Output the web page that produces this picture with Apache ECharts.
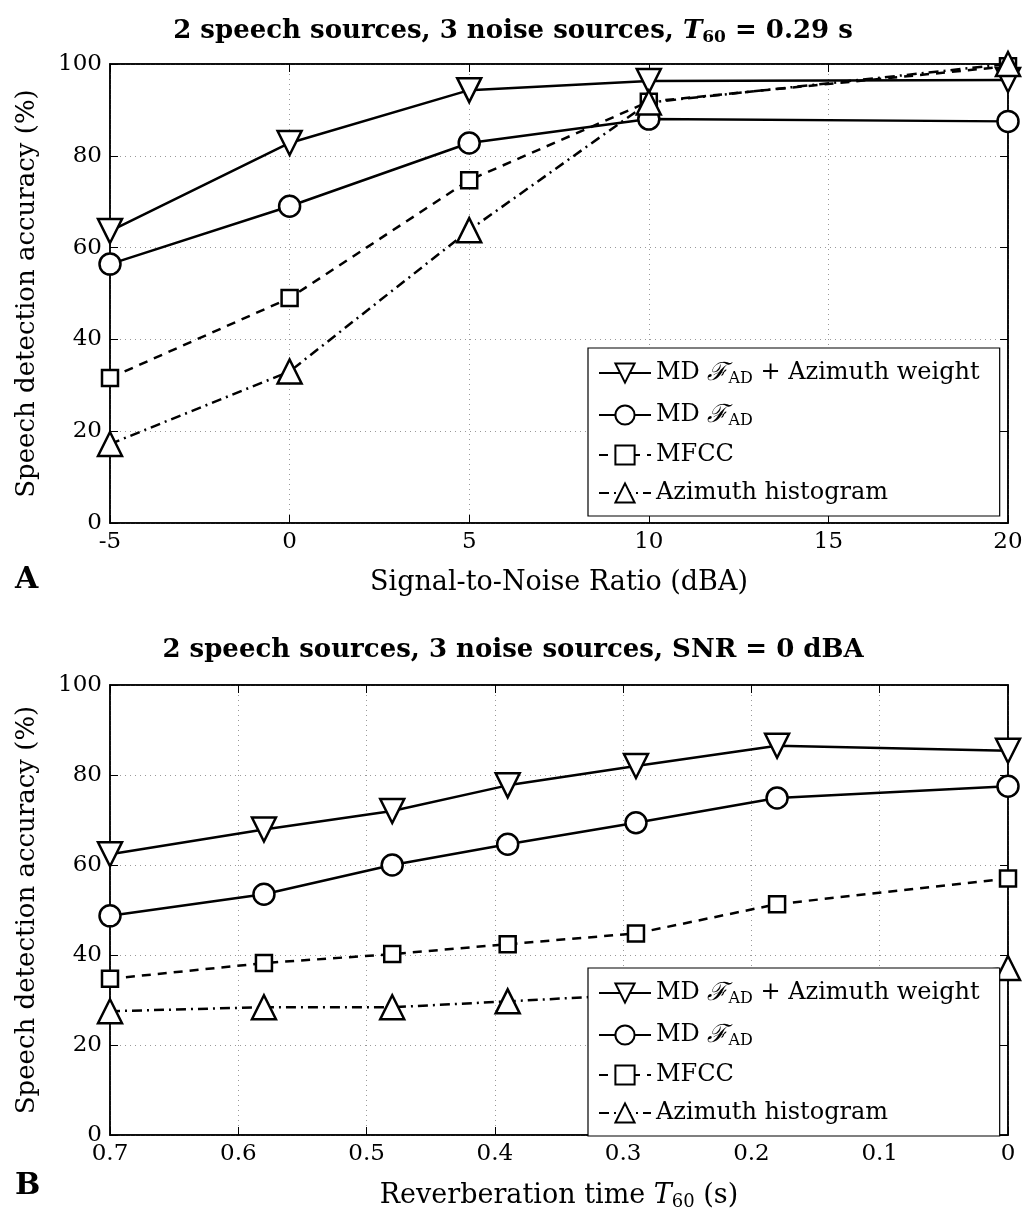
<!DOCTYPE html>
<html>
<head>
<meta charset="utf-8">
<script src="https://cdn.jsdelivr.net/npm/echarts@6/dist/echarts.min.js"></script>
<style>
  html, body { margin: 0; padding: 0; background: #fff; }
  #chart { width: 1026px; height: 1212px; }
</style>
</head>
<body>
<div id="chart"></div>
<script>
// panel A: accuracy vs SNR
var snrA = [-5, 0, 5, 10, 20];
var azWeightA = [63.6, 82.8, 94.3, 96.3, 96.5];
var mdA = [56.4, 69, 82.8, 88, 87.5];
var mfccA = [31.6, 49, 74.7, 91.8, 99.5];
var histA = [17.2, 33, 63.8, 91.6, 100];

// panel B: accuracy vs T60
var t60B = [0.7, 0.58, 0.48, 0.39, 0.29, 0.18, 0];
var azWeightB = [62.4, 67.9, 72, 77.7, 82, 86.5, 85.4];
var mdB = [48.7, 53.5, 60, 64.6, 69.4, 74.9, 77.5];
var mfccB = [34.7, 38.2, 40.2, 42.4, 44.8, 51.3, 57];
var histB = [27.5, 28.4, 28.4, 29.7, 31.2, 33.5, 37.1];

var names = ['azw', 'md', 'mfcc', 'hist'];
var font = 'DejaVu Serif';

function pairs(xs, ys) {
  return xs.map(function (x, i) { return [x, ys[i]]; });
}

var styles = {
  azw: { symbol: 'triangle', rotate: 180, size: 24, line: 'solid' },
  md: { symbol: 'circle', rotate: 0, size: 21, line: 'solid' },
  mfcc: { symbol: 'rect', rotate: 0, size: 16, line: [9, 7] },
  hist: { symbol: 'triangle', rotate: 0, size: 24, line: [10, 5, 2, 5] }
};

function mkSeries(name, idx, data) {
  var s = styles[name];
  return {
    name: name,
    type: 'line',
    xAxisIndex: idx,
    yAxisIndex: idx,
    data: data,
    symbol: s.symbol,
    symbolRotate: s.rotate,
    symbolSize: s.size,
    showAllSymbol: true,
    animation: false,
    lineStyle: { color: '#000', width: 2.5, type: s.line },
    itemStyle: { color: '#fff', borderColor: '#000', borderWidth: 2.5 },
    emphasis: { disabled: true },
    z: 3
  };
}

var legendRich = {
  t: { fontFamily: font, fontSize: 24, color: '#000', lineHeight: 28 },
  f: { fontFamily: font, fontSize: 25, fontStyle: 'italic', color: '#000', lineHeight: 28 },
  s: { fontFamily: font, fontSize: 16, color: '#000', lineHeight: 16, padding: [12, 0, 0, 0] }
};
function legendFmt(n) {
  if (n === 'azw') return '{t|MD }{f|ℱ}{s|AD}{t| + Azimuth weight}';
  if (n === 'md') return '{t|MD }{f|ℱ}{s|AD}';
  if (n === 'mfcc') return '{t|MFCC}';
  return '{t|Azimuth histogram}';
}
function mkLegend(top) {
  return {
    data: names,
    orient: 'vertical',
    left: 588,
    top: top,
    itemWidth: 52,
    itemHeight: 24,
    itemGap: 14,
    padding: [11, 20, 11, 10],
    borderColor: '#000',
    borderWidth: 1.2,
    backgroundColor: '#fff',
    selectedMode: false,
    formatter: legendFmt,
    textStyle: { rich: legendRich },
    z: 10
  };
}

var tickStyle = { show: true, inside: true, length: 8, lineStyle: { color: '#000' } };
var dotted = { show: true, lineStyle: { color: '#999', type: [1, 4], width: 1 } };

function xAxisCommon(idx) {
  return {
    type: 'value',
    gridIndex: idx,
    nameLocation: 'middle',
    nameGap: 46,
    nameTextStyle: { fontFamily: font, fontSize: 27, color: '#000' },
    axisLine: { show: true, onZero: false, lineStyle: { color: '#000', width: 1.5 } },
    axisTick: tickStyle,
    axisLabel: { fontFamily: font, fontSize: 23, color: '#000', margin: 8 },
    splitLine: dotted
  };
}
function yAxisCommon(idx) {
  return {
    type: 'value',
    gridIndex: idx,
    min: 0,
    max: 100,
    interval: 20,
    name: 'Speech detection accuracy (%)',
    nameLocation: 'middle',
    nameGap: 70,
    nameTextStyle: { fontFamily: font, fontSize: 26, color: '#000' },
    axisLine: { show: true, onZero: false, lineStyle: { color: '#000', width: 1.5 } },
    axisTick: tickStyle,
    axisLabel: { fontFamily: font, fontSize: 23, color: '#000', margin: 8 },
    splitLine: dotted
  };
}
// mirror axes for the box ticks on top and right
function mirror(ax, pos) {
  return {
    type: 'value',
    gridIndex: ax.gridIndex,
    position: pos,
    min: ax.min, max: ax.max, interval: ax.interval, inverse: ax.inverse,
    axisLine: { show: true, onZero: false, lineStyle: { color: '#000', width: 1.5 } },
    axisTick: tickStyle,
    axisLabel: { show: false },
    splitLine: { show: false }
  };
}

var xA = xAxisCommon(0);
xA.min = -5; xA.max = 20; xA.interval = 5;
xA.name = 'Signal-to-Noise Ratio (dBA)';
xA.axisLabel.formatter = function (v) { return String(v); };

var xB = xAxisCommon(1);
xB.min = 0; xB.max = 0.7; xB.interval = 0.1; xB.inverse = true;
xB.name = '{n|Reverberation time }{i|T}{s|60}{n| (s)}';
xB.nameTextStyle.rich = {
  n: { fontFamily: font, fontSize: 27, color: '#000' },
  i: { fontFamily: font, fontSize: 27, fontStyle: 'italic', color: '#000' },
  s: { fontFamily: font, fontSize: 18, color: '#000', padding: [12, 0, 0, 0] }
};
xB.axisLabel.formatter = function (v) { return v === 0 ? '0' : v.toFixed(1); };

var yA = yAxisCommon(0);
var yB = yAxisCommon(1);

var titleRich = {
  b: { fontFamily: font, fontSize: 26, fontWeight: 'bold', color: '#000' },
  i: { fontFamily: font, fontSize: 26, fontWeight: 'bold', fontStyle: 'italic', color: '#000' },
  s: { fontFamily: font, fontSize: 17, fontWeight: 'bold', color: '#000', padding: [12, 0, 0, 0] }
};

var option = {
  backgroundColor: '#fff',
  animation: false,
  title: [
    { text: '{b|2 speech sources, 3 noise sources, }{i|T}{s|60}{b| = 0.29 s}', left: 'center', top: 12,
      textStyle: { rich: titleRich } },
    { text: '{b|2 speech sources, 3 noise sources, SNR = 0 dBA}', left: 'center', top: 632,
      textStyle: { rich: titleRich } },
    { text: 'A', left: 10, top: 560, textStyle: { fontFamily: font, fontSize: 30, fontWeight: 'bold', color: '#000' } },
    { text: 'B', left: 10, top: 1166, textStyle: { fontFamily: font, fontSize: 30, fontWeight: 'bold', color: '#000' } }
  ],
  legend: [mkLegend(348), mkLegend(968)],
  grid: [
    { left: 110, right: 18, top: 64, height: 459, show: true, borderColor: '#000', borderWidth: 1.5, backgroundColor: 'transparent' },
    { left: 110, right: 18, top: 685, height: 458, show: true, borderColor: '#000', borderWidth: 1.5, backgroundColor: 'transparent' }
  ],
  xAxis: [xA, xB, mirror(xA, 'top'), mirror(xB, 'top')],
  yAxis: [yA, yB, mirror(yA, 'right'), mirror(yB, 'right')],
  series: [
    mkSeries('azw', 0, pairs(snrA, azWeightA)),
    mkSeries('md', 0, pairs(snrA, mdA)),
    mkSeries('mfcc', 0, pairs(snrA, mfccA)),
    mkSeries('hist', 0, pairs(snrA, histA)),
    mkSeries('azw', 1, pairs(t60B, azWeightB)),
    mkSeries('md', 1, pairs(t60B, mdB)),
    mkSeries('mfcc', 1, pairs(t60B, mfccB)),
    mkSeries('hist', 1, pairs(t60B, histB))
  ]
};

var chart = echarts.init(document.getElementById('chart'));
chart.setOption(option);
</script>
</body>
</html>
